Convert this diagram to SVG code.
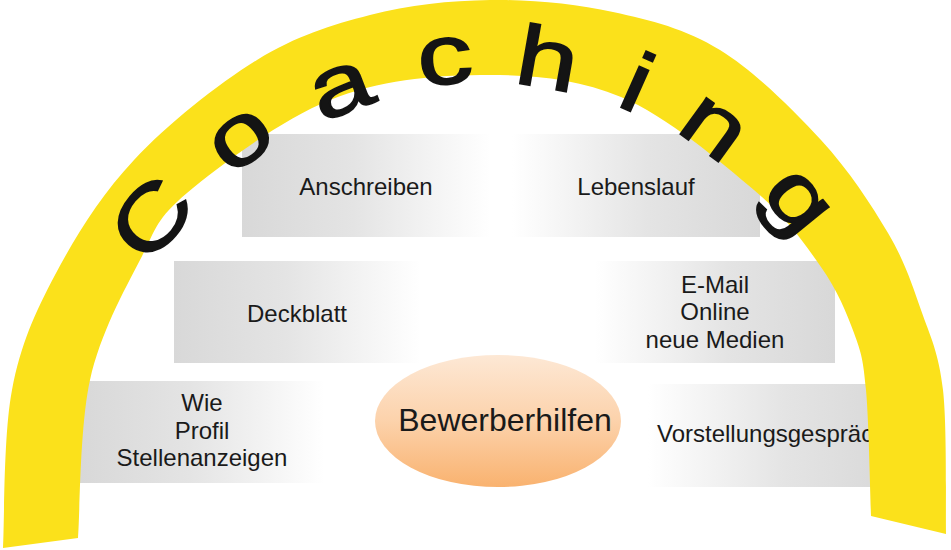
<svg xmlns="http://www.w3.org/2000/svg" width="951" height="550" viewBox="0 0 951 550">
  <defs>
    <linearGradient id="grayL" x1="0" y1="0" x2="1" y2="0">
      <stop offset="0" stop-color="#d8d8d8"/>
      <stop offset="0.45" stop-color="#e4e4e4"/>
      <stop offset="1" stop-color="#ffffff"/>
    </linearGradient>
    <linearGradient id="grayR" x1="0" y1="0" x2="1" y2="0">
      <stop offset="0" stop-color="#ffffff"/>
      <stop offset="0.55" stop-color="#e4e4e4"/>
      <stop offset="1" stop-color="#d8d8d8"/>
    </linearGradient>
    <linearGradient id="peach" x1="0" y1="0" x2="0" y2="1">
      <stop offset="0" stop-color="#fde8d5"/>
      <stop offset="0.5" stop-color="#fcd2ab"/>
      <stop offset="1" stop-color="#f9b26f"/>
    </linearGradient>
    <style>
      .lbl { font-family: "Liberation Sans", Arial, sans-serif; font-size: 24px; fill: #1a1a1a; text-anchor: middle; }
      .big { font-family: "Liberation Sans", Arial, sans-serif; font-size: 32px; fill: #1a1a1a; text-anchor: middle; }
      .ltr { font-family: "Liberation Sans", Arial, sans-serif; font-size: 85px; fill: #141414; stroke: #141414; stroke-width: 1.6px; text-anchor: middle; }
      .band { fill: #fbe11b; }
    </style>
  </defs>

  <rect width="951" height="550" fill="#ffffff"/>

  <g id="node-anschreiben">
    <rect x="242" y="134" width="248" height="103" fill="url(#grayL)"/>
    <text class="lbl" x="366" y="195">Anschreiben</text>
  </g>
  <g id="node-lebenslauf">
    <rect x="512" y="134" width="248" height="103" fill="url(#grayR)"/>
    <text class="lbl" x="636" y="195">Lebenslauf</text>
  </g>
  <g id="node-deckblatt">
    <rect x="174" y="261" width="246" height="102" fill="url(#grayL)"/>
    <text class="lbl" x="297" y="322">Deckblatt</text>
  </g>
  <g id="node-email">
    <rect x="595" y="261" width="240" height="102" fill="url(#grayR)"/>
    <text class="lbl" x="715" y="292.5">E-Mail</text>
    <text class="lbl" x="715" y="320">Online</text>
    <text class="lbl" x="715" y="347.5">neue Medien</text>
  </g>
  <g id="node-wie">
    <rect x="80" y="381" width="244" height="102" fill="url(#grayL)"/>
    <text class="lbl" x="202" y="411">Wie</text>
    <text class="lbl" x="202" y="438.5">Profil</text>
    <text class="lbl" x="202" y="466">Stellenanzeigen</text>
  </g>
  <g id="node-vorstellung">
    <rect x="648" y="384" width="248" height="103" fill="url(#grayR)"/>
    <text class="lbl" x="657" y="442" style="text-anchor:start">Vorstellungsgespräch</text>
  </g>
  <g id="node-bewerberhilfen">
    <ellipse cx="498" cy="421" rx="123" ry="66" fill="url(#peach)"/>
    <text class="big" x="505" y="431">Bewerberhilfen</text>
  </g>

  <g id="coaching-arc">
    <path class="band" d="M3,548 C4.5,521.7 3.3,435.5 12,390 C20.7,344.5 34.7,313.3 55,275 C75.3,236.7 100.3,195.8 134,160 C167.7,124.2 217.7,84.2 257,60 C296.3,35.8 331.2,25 370,15 C408.8,5 449.5,0.5 490,0 C530.5,-0.5 574.7,3.7 613,12 C651.3,20.3 685.3,28.7 720,50 C754.7,71.3 793,109.5 821,140 C849,170.5 871.3,204.7 888,233 C904.7,261.3 911.8,283.8 921,310 C930.2,336.2 938.8,352.7 943,390 C947.2,427.3 945.5,510 946,534 L871,516 C870.2,495 868.8,420.5 866,390 C863.2,359.5 861.5,353.5 854,333 C846.5,312.5 837.7,290.8 821,267 C804.3,243.2 787.3,218.3 754,190 C720.7,161.7 666.7,116.2 621,97 C575.3,77.8 528.5,74.5 480,75 C431.5,75.5 378.8,80.3 330,100 C281.2,119.7 218.7,166.3 187,193 C155.3,219.7 156.2,228.8 140,260 C123.8,291.2 100.3,333.7 90,380 C79.7,426.3 80,511.7 78,538 Z"/>
    <g id="coaching-text">
      <text class="ltr" transform="translate(150,217) rotate(-50) scale(1.3,1)" x="0" y="31">C</text>
      <text class="ltr" transform="translate(242,141) rotate(-37) scale(1.3,1)" x="0" y="22">o</text>
      <text class="ltr" transform="translate(342,91) rotate(-21) scale(1.3,1)" x="0" y="22">a</text>
      <text class="ltr" transform="translate(445,62) rotate(-5) scale(1.3,1)" x="0" y="22">c</text>
      <text class="ltr" transform="translate(548,58) rotate(10) scale(1.3,1)" x="0" y="30">h</text>
      <text class="ltr" transform="translate(638,82) rotate(24) scale(1.3,1)" x="0" y="30">i</text>
      <text class="ltr" transform="translate(712,130) rotate(36) scale(1.3,1)" x="0" y="22">n</text>
      <text class="ltr" transform="translate(790,208) rotate(51) scale(1.3,1)" x="0" y="14">g</text>
    </g>
  </g>

  <g id="connectors"/>
</svg>
